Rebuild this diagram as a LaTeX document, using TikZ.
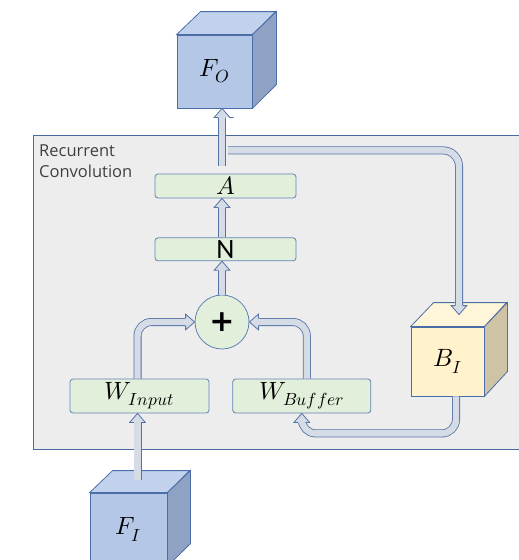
\documentclass[tikz,border=0pt]{standalone}
\usepackage{fontspec}
\usepackage{unicode-math}
\setmathfont{Latin Modern Math}
\setsansfont{Open Sans}
\newfontfamily\calibrifont{Carlito}
\newfontfamily\plusfont{DejaVu Sans}
\usepackage{tikz}
\usetikzlibrary{positioning}
\usetikzlibrary{calc}
\usetikzlibrary{decorations.markings}
\definecolor{panelfill}{RGB}{237,237,237}
\definecolor{paneledge}{RGB}{72,106,160}
\definecolor{boxfill}{RGB}{226,239,218}
\definecolor{boxedge}{RGB}{96,130,184}
\definecolor{pipefill}{RGB}{214,220,229}
\definecolor{pipeedge}{RGB}{84,114,166}
\definecolor{cubefront}{RGB}{180,199,231}
\definecolor{cubetop}{RGB}{194,210,237}
\definecolor{cubeside}{RGB}{143,162,196}
\definecolor{cubeedge}{RGB}{76,110,168}
\definecolor{buffront}{RGB}{255,242,204}
\definecolor{buftop}{RGB}{255,245,217}
\definecolor{bufside}{RGB}{206,195,164}
\definecolor{labeltext}{RGB}{64,64,64}

\begin{document}
\begin{tikzpicture}[
    x=1pt, y=-1pt,
    panel/.style={draw=paneledge, fill=panelfill, line width=0.8pt},
    layer/.style={rectangle, draw=boxedge, fill=boxfill, rounded corners=3pt, inner sep=0pt, line width=0.8pt, font=\fontsize{25}{25}\selectfont},
    face/.style={rectangle, draw=cubeedge, line width=0.8pt, inner sep=0pt, font=\fontsize{25}{25}\selectfont},
    pipe/.style={draw=pipeedge, double=pipefill, line width=0.8pt, double distance=6.4pt, shorten >=8.5pt, rounded corners=14pt,
        postaction={decorate, decoration={markings, mark=at position 1 with {
            \fill[pipefill, sharp corners] (-9.6pt,-3.4pt) -- (-9pt,-3.4pt) -- (-9pt,-7.8pt) -- (0pt,0pt) -- (-9pt,7.8pt) -- (-9pt,3.4pt) -- (-9.6pt,3.4pt) -- cycle;
            \draw[pipeedge, line width=0.8pt, sharp corners, shorten >=0pt] (-9pt,-3.6pt) -- (-9pt,-7.8pt) -- (0pt,0pt) -- (-9pt,7.8pt) -- (-9pt,3.6pt);
        }}}}
]
\useasboundingbox (0,0) rectangle (519,560);

% Recurrent convolution block
\draw[panel] (33,135) rectangle (530,449);
\node[anchor=north west, align=left, inner sep=0pt, text=labeltext, font=\sffamily\fontsize{16.5}{21}\selectfont] (title) at (39,145) {Recurrent\\Convolution};

% Layers
\node[layer, minimum width=141, minimum height=24] (A) at (225.5,186) {$A$};
\node[layer, minimum width=141, minimum height=23, below=39pt of A, font=\calibrifont\fontsize{28}{28}\selectfont] (N) {N};
\node[circle, draw=boxedge, fill=boxfill, line width=0.8pt, minimum size=54, inner sep=0pt] (sum) at (222,322) {\plusfont\bfseries\fontsize{30}{30}\selectfont +};
\node[layer, minimum width=139, minimum height=34] (Win) at (139.5,396) {$W_{Input}$};
\node[layer, minimum width=138, minimum height=34, right=23pt of Win] (Wbuf) {$W_{Buffer}$};

% Output feature map
\node[face, fill=cubefront, minimum width=75, minimum height=73] (FO) at (214.5,71.5) {$F_O$};
\filldraw[cubeedge, fill=cubetop, line width=0.8pt] (FO.north west) -- ++(24,-23) -- ++(75,0) -- (FO.north east) -- cycle;
\filldraw[cubeedge, fill=cubeside, line width=0.8pt] (FO.north east) -- ++(24,-23) -- ++(0,73) -- (FO.south east) -- cycle;

% Buffer
\node[face, fill=buffront, minimum width=73, minimum height=69] (BI) at (447.5,361.5) {$B_I$};
\filldraw[cubeedge, fill=buftop, line width=0.8pt] (BI.north west) -- ++(23,-24) -- ++(73,0) -- (BI.north east) -- cycle;
\filldraw[cubeedge, fill=bufside, line width=0.8pt] (BI.north east) -- ++(23,-24) -- ++(0,69) -- (BI.south east) -- cycle;

% Input feature map
\node[face, fill=cubefront, minimum width=77, minimum height=73] (FI) at (128.5,529.5) {$F_I$};
\filldraw[cubeedge, fill=cubetop, line width=0.8pt] (FI.north west) -- ++(23,-22) -- ++(77,0) -- (FI.north east) -- cycle;
\filldraw[cubeedge, fill=cubeside, line width=0.8pt] (FI.north east) -- ++(23,-22) -- ++(0,73) -- (FI.south east) -- cycle;

\coordinate (FItop) at ($(FI.north)+(9,-13)$);
\coordinate (BItop) at ($(BI.north)+(11.5,-12)$);
\coordinate (tap) at ($(sum |- FO.south)+(6,42)$);

% Arrows
\draw[pipe] (FItop) -- (Win.south -| FItop);
\draw[pipe] ([xshift=-2pt]Win.north) |- (sum.west);
\draw[pipe] ([xshift=5pt]Wbuf.north) |- (sum.east);
\draw[pipe] (sum.north) -- (N.south -| sum);
\draw[pipe] (N.north -| sum) -- (A.south -| sum);
\draw[pipe, shorten <=8pt] (A.north -| sum) -- (FO.south -| sum);

% Feedback through the buffer
\draw[pipe, rounded corners=16pt] (tap) -| (BItop);
\draw[pipe] ([xshift=8.5pt]BI.south) -- ++(0,37) -| (Wbuf.south);

\end{tikzpicture}
\end{document}
